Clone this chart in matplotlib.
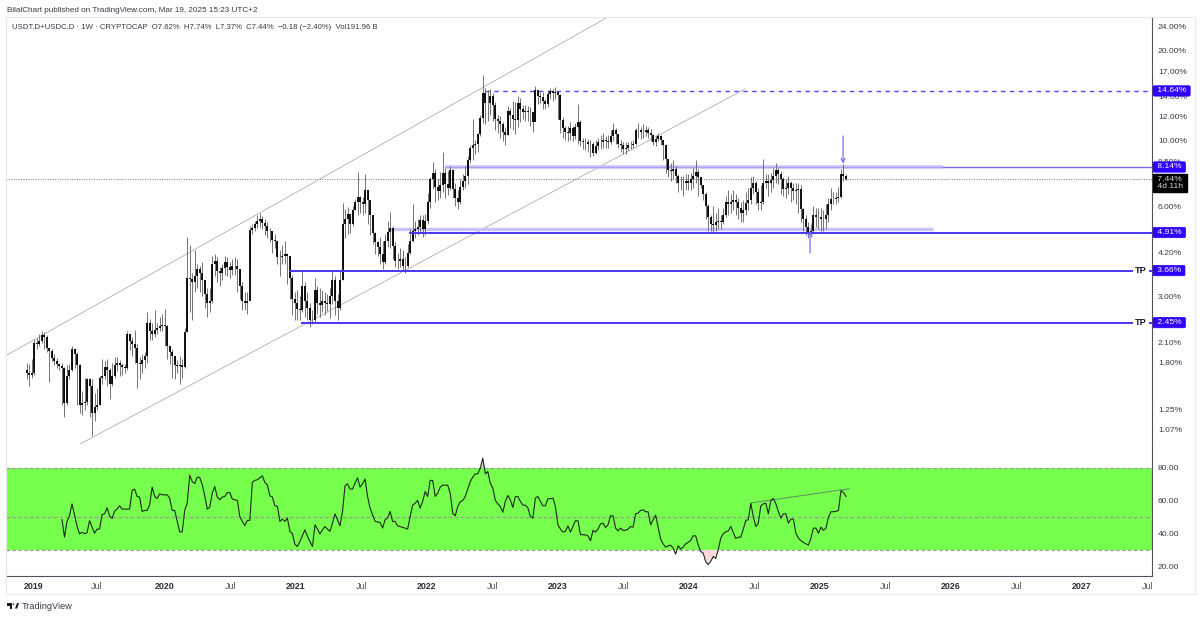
import matplotlib
matplotlib.use("Agg")
import matplotlib.pyplot as plt
from matplotlib.patches import Rectangle, Polygon, Circle
from matplotlib.ticker import FixedLocator, FixedFormatter, NullLocator

plt.rcParams["font.family"] = ["Liberation Sans", "DejaVu Sans"]

# weekly candles, percent dominance
closes = [1.66,1.64,1.66,2.10,2.07,2.13,2.22,2.20,2.02,1.97,
          1.87,1.82,1.78,1.75,1.72,1.32,1.62,1.70,2.00,1.92,
          1.76,1.30,1.32,1.33,1.58,1.50,1.22,1.28,1.30,1.60,
          1.62,1.74,1.70,1.52,1.62,1.77,1.80,1.76,1.74,1.72,
          2.25,2.12,2.08,2.02,1.80,1.78,1.84,1.90,2.45,2.30,
          2.25,2.32,2.35,2.38,2.40,2.38,2.05,1.95,1.90,1.76,
          1.75,1.76,1.74,2.27,3.45,3.42,3.35,3.50,3.70,3.60,
          3.40,3.05,2.85,2.90,3.85,3.95,3.65,3.60,3.72,3.90,
          3.75,3.68,3.80,3.78,3.70,3.25,2.90,2.85,2.90,5.02,
          5.09,5.23,5.38,5.43,5.28,5.18,4.95,4.95,4.65,4.60,
          4.05,4.05,4.08,4.15,4.10,3.45,2.95,2.85,2.72,2.70,
          3.25,2.90,2.75,2.50,2.50,3.15,2.85,2.80,2.90,2.85,
          2.82,3.00,3.40,2.90,2.75,3.40,5.25,5.43,5.67,5.25,
          5.82,6.22,6.46,6.22,6.12,6.80,6.32,5.63,4.88,4.55,
          4.38,4.15,3.90,4.60,4.93,5.09,4.42,3.95,3.95,3.99,
          3.80,3.78,4.20,4.60,4.97,5.05,5.13,5.41,5.05,5.38,
          6.22,7.41,7.80,6.95,6.76,7.07,7.80,7.12,6.90,7.95,
          6.88,6.42,6.22,6.95,7.31,7.60,8.58,9.46,9.65,9.75,
          10.5,11.9,14.4,13.3,13.3,14.1,13.1,11.8,11.6,11.3,
          10.7,10.4,12.5,12.2,11.8,11.7,13.3,12.7,12.4,12.5,
          12.4,12.4,11.5,14.8,14.1,14.0,13.5,13.2,14.3,14.6,
          14.4,14.5,14.2,11.7,11.0,10.7,10.6,11.0,10.3,11.1,
          11.5,9.95,9.85,9.85,9.75,9.75,9.07,9.55,9.85,9.85,
          10.0,9.95,9.85,10.3,10.8,10.5,9.75,9.65,9.36,9.46,
          9.65,9.65,9.75,10.8,10.8,10.7,10.7,10.8,10.6,10.4,
          9.85,10.1,10.3,10.0,9.65,8.68,7.95,7.9,8.0,7.6,
          7.22,7.2,7.2,7.31,7.22,7.41,7.6,7.85,7.51,7.1,
          6.61,6.02,5.53,5.23,5.2,5.33,5.38,5.33,5.63,6.22,
          6.12,6.22,6.32,6.22,5.92,5.72,5.82,6.18,6.32,6.91,
          7.22,6.71,6.18,6.22,7.22,7.31,7.22,7.36,7.6,7.95,
          7.7,7.41,6.86,6.91,7.2,6.91,6.76,6.81,6.86,5.87,
          5.43,5.13,4.93,4.96,5.63,5.53,5.53,5.43,5.43,5.63,
          6.12,6.34,6.37,6.42,6.46,7.7,7.62,7.44]
highs = [1.80,1.78,1.85,2.16,2.18,2.24,2.30,2.28,2.22,2.02,
         2.00,1.92,1.86,1.80,1.80,1.74,1.76,1.78,2.04,2.02,
         1.95,1.78,1.45,1.60,1.60,1.60,1.58,1.42,1.48,1.62,
         1.85,1.82,1.85,1.72,1.80,1.88,1.88,1.84,1.80,1.78,
         2.30,2.24,2.20,2.32,2.08,1.88,1.92,1.95,2.65,2.52,
         2.45,2.70,2.45,2.55,2.62,2.72,2.40,2.05,2.00,1.90,
         1.84,1.90,1.85,2.35,4.75,4.45,3.60,4.30,3.85,3.80,
         3.90,3.40,3.20,3.20,4.10,4.15,4.05,3.75,3.85,4.10,
         4.05,3.90,4.00,4.05,4.00,3.70,3.35,3.10,3.10,5.18,
         5.23,5.38,5.63,5.72,5.58,5.43,5.33,5.08,4.95,4.85,
         4.65,4.30,4.45,4.60,4.20,4.10,3.55,3.10,3.15,3.00,
         3.65,3.35,3.10,2.85,2.70,3.45,3.25,3.20,3.15,3.10,
         3.05,3.20,3.65,3.50,3.05,3.65,6.18,5.87,5.97,5.53,
         6.02,6.37,7.83,6.51,6.46,7.7,6.76,5.97,5.53,4.93,
         4.60,4.75,4.60,4.85,5.38,5.77,5.18,4.55,4.20,4.35,
         4.30,4.05,4.50,5.05,6.12,5.38,5.43,5.63,5.63,5.67,
         6.66,7.56,8.48,8.0,7.41,7.85,9.17,8.09,7.9,8.19,
         8.04,7.2,6.81,7.41,7.7,8.19,8.87,9.65,11.8,10.0,
         10.6,12.2,16.6,15.0,14.7,14.9,14.4,13.4,12.2,12.1,
         11.5,11.1,13.0,12.8,13.5,13.4,14.1,13.9,13.1,13.1,
         13.0,12.9,12.4,15.2,14.8,14.5,14.5,13.8,14.7,15.0,
         14.9,15.1,14.5,14.3,12.0,11.2,11.2,11.5,11.2,11.4,
         13.2,11.7,10.2,10.2,10.1,10.0,9.85,10.0,10.2,10.4,
         10.6,10.3,10.4,10.8,11.4,11.0,10.5,10.0,9.85,9.85,
         9.85,9.95,10.0,11.0,11.4,11.1,11.3,11.2,11.1,10.9,
         10.5,10.4,10.6,10.4,10.0,9.75,8.68,8.38,8.58,8.19,
         7.7,7.6,7.6,7.7,7.7,7.8,8.09,8.58,8.0,7.51,
         7.1,6.71,6.12,5.63,6.02,5.72,5.92,5.63,5.92,6.51,
         6.81,6.61,6.81,6.61,6.42,6.22,6.32,6.71,6.91,7.51,
         7.6,7.31,6.91,7.1,8.63,7.7,7.7,7.8,8.09,8.39,
         8.09,7.9,7.51,7.41,7.6,7.31,7.2,7.2,7.2,7.1,
         5.92,5.63,5.33,5.23,6.02,5.92,5.92,5.92,5.82,6.12,
         6.42,6.91,6.71,6.71,7.0,8.0,8.3,7.74]
lows = [1.58,1.50,1.60,1.64,2.00,2.05,2.10,2.00,1.95,1.55,
        1.82,1.76,1.72,1.70,1.30,1.18,1.30,1.58,1.68,1.72,
        1.30,1.22,1.20,1.25,1.30,1.18,1.02,1.15,1.25,1.30,
        1.52,1.58,1.50,1.36,1.50,1.60,1.68,1.62,1.64,1.66,
        1.70,1.98,1.90,1.80,1.48,1.58,1.66,1.72,1.80,2.15,
        2.15,2.20,2.25,2.30,2.30,2.05,1.85,1.78,1.60,1.58,
        1.66,1.52,1.60,1.72,2.27,2.65,2.50,3.10,3.20,3.10,
        3.00,2.75,2.55,2.65,2.85,3.50,3.35,3.25,3.40,3.55,
        3.50,3.45,3.55,3.55,3.10,2.95,2.70,2.70,2.62,3.85,
        4.85,4.95,5.08,5.13,5.03,4.80,4.70,4.55,4.20,4.35,
        3.85,3.50,3.85,3.85,3.30,2.95,2.60,2.50,2.50,2.50,
        2.65,2.55,2.50,2.36,2.42,2.45,2.62,2.55,2.65,2.60,
        2.68,2.53,2.82,2.60,2.50,2.70,3.40,4.70,4.85,4.90,
        5.15,5.82,5.63,5.72,5.63,5.72,5.23,4.80,4.50,4.15,
        4.10,3.85,3.70,3.85,4.40,4.35,4.00,3.75,3.70,3.75,
        3.65,3.60,3.75,4.15,4.55,4.70,4.80,4.90,4.75,4.80,
        5.23,5.95,6.92,6.22,6.32,6.42,6.71,6.42,6.56,6.81,
        6.42,6.02,5.87,6.12,6.81,6.91,7.12,8.39,8.58,8.97,
        9.17,10.3,11.4,11.3,11.6,12.2,11.6,10.8,10.6,10.2,
        9.95,9.65,10.4,11.0,10.8,10.5,11.1,11.5,11.8,11.6,
        11.6,11.2,10.7,11.6,13.2,13.3,12.7,12.7,12.9,13.8,
        13.5,13.8,11.8,10.6,10.2,10.0,9.95,10.0,9.95,10.1,
        9.75,9.55,9.36,9.26,9.17,8.78,8.87,8.97,9.26,9.36,
        9.46,9.46,9.46,9.75,9.95,9.75,9.46,9.17,8.97,8.97,
        9.26,9.36,9.46,9.65,10.2,10.1,10.2,10.3,10.2,9.95,
        9.65,9.55,9.95,9.65,8.58,7.8,7.51,7.31,7.41,7.22,
        6.71,6.81,6.52,6.81,6.81,6.81,6.92,7.22,6.52,6.91,
        6.32,5.43,4.95,4.95,4.92,4.95,5.03,5.03,5.23,5.53,
        5.63,5.72,5.82,5.63,5.43,5.33,5.33,5.63,5.82,6.12,
        6.61,6.12,5.82,5.82,6.12,6.91,6.52,6.71,6.91,7.22,
        7.12,6.61,6.52,6.42,6.61,6.22,6.32,6.12,5.72,5.33,
        4.95,4.80,4.70,4.75,4.85,5.13,5.03,4.95,4.95,5.03,
        5.33,5.82,6.12,6.12,6.22,6.42,7.30,7.37]
first_open = 1.70

rsi = [48.4,37.8,47.4,50.8,58.1,51.4,44.7,39.8,40.7,40,40.4,47.8,43.9,40.2,42.7,42.7,51.6,52,55.7,50.8,49.2,
       53.7,54.9,56.9,54.9,54.9,54.9,54.9,66.3,67.1,62.6,62.2,53.5,54.1,54.1,57.5,68.3,62.6,61.4,64.2,63.6,63.6,
       63.6,61.6,54.1,54.1,47.4,41,41,54.1,58.5,75.6,71.7,70.5,74.4,74.2,69.7,63,54.9,56.1,64.6,68.7,
       62.2,60.6,62.2,62.6,65,65,61,60.6,60.2,50.4,47.4,44.9,48,48,71.3,72.4,72.8,74,75.2,71.1,
       69.7,63,62.2,56.9,56.5,47.4,48.8,47.4,49.4,41.3,39.8,33.5,32.1,35.2,38.8,42.3,38.2,35.2,32.1,45.3,
       42.7,39.8,42.3,44.3,42.7,41.3,46.3,52,48.4,44.7,53.5,69.1,70.3,67.1,67.1,70.7,74,68.3,70.3,73.2,
       62.6,55.5,51.4,47.4,47,46.7,43.3,48.4,49.4,53.5,47.4,47.4,44.7,44.3,43.7,43.3,42.7,50.4,57.3,58.5,
       60.2,55.5,59.6,65.7,62.6,72.4,72.4,62.6,64.6,68.3,69.5,69.5,69.5,64.6,
       52.4,50.8,56.5,59.3,60.2,62.6,67.1,71.7,74.4,76.4,76.4,79.9,86,76.4,77.8,70.7,67.7,60.2,58.1,56.5,
       53,59.6,63.2,60.6,55.9,62.6,62.6,59.6,57.3,57.3,55.7,50.4,49.4,61.6,62.6,59.6,56.9,56.9,61.2,61.2,
       61.6,56.5,45.3,42.7,40.9,41.3,44.7,40.9,44.3,47.8,47.8,39.4,39.2,39.2,38.6,35.6,41.9,40.9,42.7,45.9,
       46.3,43.7,45.3,50.8,50.8,43.3,41.7,43.3,41.9,41.9,42.7,44.3,43.9,52,52.4,54.1,54.5,53.3,53.3,45.3,
       48.4,51.2,43.9,36.6,33.7,31.7,32.5,32.9,31.1,27.4,32.5,30.5,31.7,33.7,34.6,35.8,38.6,38.6,33.1,29.1,
       28,22.8,21.1,23,26,24.8,30.1,37.2,39.8,41.1,41.5,44.3,40.7,37,37.8,37.8,42.7,48,48.4,58.5,
       50.4,44.3,46.3,56.9,58.1,58.5,52,60,61.4,58.1,53.5,49.4,52,52,46.3,48.8,48.8,40.2,37.2,35.6,
       34.6,33.7,32.9,37.2,43.3,43.3,40.2,43.9,41.9,43.3,50,53.3,53.3,53.5,54.1,66.3,65,62.6]

price_ticks = [24, 20, 17, 14, 12, 10, 8.5, 6, 4.2, 3, 2.5, 2.1, 1.8, 1.25, 1.07]
price_labels = ["24.00%", "20.00%", "17.00%", "14.00%", "12.00%", "10.00%", "8.50%", "6.00%",
                "4.20%", "3.00%", "2.50%", "2.10%", "1.80%", "1.25%", "1.07%"]
rsi_ticks = [80, 60, 40, 20]
rsi_labels = ["80.00", "60.00", "40.00", "20.00"]
time_ticks = [2019, 2019.48, 2020, 2020.5, 2021, 2021.5, 2022, 2022.5, 2023, 2023.5,
              2024, 2024.5, 2025, 2025.5, 2026, 2026.5, 2027, 2027.5]
time_labels = ["2019", "Jul", "2020", "Jul", "2021", "Jul", "2022", "Jul", "2023", "Jul",
               "2024", "Jul", "2025", "Jul", "2026", "Jul", "2027", "Jul"]

levels = [14.64, 8.14, 4.91, 3.66, 2.45]
level_text = ["14.64%", "8.14%", "4.91%", "3.66%", "2.45%"]
last_price = 7.44
last_x = 2025.198

BLUE = "#2f00ff"
LINE = "#4a35f0"
BAND = "#c8c3f8"
ARROW = "#7f6dff"
BORDER = "#e6e8ee"
W, H = 1200, 617
FS = 6.1

fig = plt.figure(figsize=(12, 6.17), dpi=100, facecolor="white")
ax = fig.add_axes([6 / W, 1 - 444 / H, 1146 / W, 427 / H])
ax2 = fig.add_axes([6 / W, 1 - 576 / H, 1146 / W, 132 / H], sharex=ax)

n = len(closes)
xs = [last_x - (n - 1 - i) / 52.3 for i in range(n)]
opens = [first_open] + closes[:-1]

# channel and levels under the candles
ax.plot([2018.786, 2023.382], [1.90, 25.9], color="#a8a8a8", lw=0.55, zorder=1)
ax.plot([2019.351, 2024.427], [0.96, 14.85], color="#a8a8a8", lw=0.55, zorder=1)
ax.axhline(last_price, color="#777777", lw=0.7, ls=(0, (1, 1.5)), zorder=1)

ax.plot([2022.137, 2025.939], [8.16, 8.16], color=BAND, lw=2.6, solid_capstyle="butt", zorder=1)
ax.plot([2021.718, 2025.863], [5.03, 5.03], color=BAND, lw=2.4, solid_capstyle="butt", zorder=1)
ax.plot([2022.137, 2025.939], [8.14, 8.14], color="#a89ff5", lw=0.7, zorder=1)
ax.plot([2025.939, 2027.534], [8.14, 8.14], color="#7a68f5", lw=1.0, zorder=1)
ax.plot([2022.443, 2027.534], [14.64, 14.64], color="#5b45ff", lw=1.0, ls=(0, (3.2, 3.2)), zorder=1)
ax.plot([2021.87, 2027.534], [4.91, 4.91], color=LINE, lw=1.4, zorder=3)
ax.plot([2020.954, 2027.534], [3.66, 3.66], color=LINE, lw=1.4, zorder=3)
ax.plot([2021.046, 2027.534], [2.45, 2.45], color=LINE, lw=1.4, zorder=3)

# candles
ax.vlines(xs, lows, highs, color="#6a6a6a", lw=0.65, zorder=2)
ax.vlines(xs, opens, closes, color="black", lw=1.3, zorder=2.5)

ax.annotate("", xy=(2025.176, 8.35), xytext=(2025.176, 10.35),
            arrowprops=dict(arrowstyle="->", color=ARROW, lw=0.9, mutation_scale=7, shrinkA=0, shrinkB=0), zorder=4)
ax.annotate("", xy=(2024.924, 4.95), xytext=(2024.924, 4.2),
            arrowprops=dict(arrowstyle="->", color=ARROW, lw=0.9, mutation_scale=7, shrinkA=0, shrinkB=0), zorder=4)

ax.set_yscale("log")
ax.set_xlim(2018.786, 2027.534)
ax.set_ylim(0.96, 25.9)
ax.yaxis.set_major_locator(FixedLocator(price_ticks))
ax.yaxis.set_major_formatter(FixedFormatter(price_labels))
ax.yaxis.set_minor_locator(NullLocator())
ax.yaxis.tick_right()
ax.tick_params(axis="y", length=0, pad=4.3, labelsize=FS, labelcolor="#363a45")
ax.tick_params(axis="x", length=0, labelbottom=False)
for s in ["top", "left"]:
    ax.spines[s].set_visible(False)
ax.spines["bottom"].set_color(BORDER)
ax.spines["right"].set_color("#50535e")

# price tags on the scale
tr = ax.get_yaxis_transform()
for p, t in zip(levels, level_text):
    ax.text(1.0024, p, " " + t + " ", transform=tr, fontsize=FS, color="white", va="center", ha="left", zorder=6,
            bbox=dict(boxstyle="round,pad=0.2,rounding_size=0.15", fc=BLUE, ec=BLUE, lw=0.5), clip_on=False)
ax.text(1.0024, 7.2, " 7.44% \n 4d 11h ", transform=tr, fontsize=FS, color="#d8d8d8", va="center", ha="left",
        linespacing=1.15, zorder=6, bbox=dict(boxstyle="square,pad=0.2", fc="black", ec="black"), clip_on=False)
for p in [3.66, 2.45]:
    ax.text(2027.45, p, "TP", fontsize=6.6, fontweight="bold", color="#131722", ha="center", va="center", zorder=5,
            bbox=dict(fc="white", ec="none", pad=1.5))

# RSI pane
rsi_x = [last_x - (len(rsi) - 1 - i) / 52.3 for i in range(len(rsi))]
ax2.axhspan(30, 80, color="#76ff4d", lw=0, zorder=0)
for v in [80, 50, 30]:
    ax2.axhline(v, color="#9a9a9a", lw=0.85, ls=(0, (3, 2)), zorder=1)
ax2.fill_between(rsi_x, rsi, 30, where=[r < 30 for r in rsi], interpolate=True, color="#ffd9dc", lw=0, zorder=1)
ax2.fill_between(rsi_x, rsi, 80, where=[r > 80 for r in rsi], interpolate=True, color="#b9d9b0", lw=0, zorder=1)
ax2.plot(rsi_x, rsi, color="#1c2a1c", lw=0.8, zorder=3)
ax2.plot([2024.479, 2025.221], [58.7, 67.3], color="#5b8f62", lw=0.7, zorder=2)

ax2.set_ylim(14.1, 94.6)
ax2.yaxis.set_major_locator(FixedLocator(rsi_ticks))
ax2.yaxis.set_major_formatter(FixedFormatter(rsi_labels))
ax2.yaxis.tick_right()
ax2.tick_params(axis="y", length=0, pad=4.3, labelsize=FS, labelcolor="#363a45")
ax2.xaxis.set_major_locator(FixedLocator(time_ticks))
ax2.xaxis.set_major_formatter(FixedFormatter(time_labels))
ax2.tick_params(axis="x", length=0, pad=4.5, labelsize=6.4, labelcolor="#50535e")
for lab, t in zip(ax2.get_xticklabels(), time_labels):
    if t != "Jul":
        lab.set_fontweight("bold")
        lab.set_color("#2a2e39")
for s in ["top", "left"]:
    ax2.spines[s].set_visible(False)
ax2.spines["bottom"].set_color("#50535e")
ax2.spines["right"].set_color("#50535e")

# outer frame and header
fig.add_artist(Rectangle((6 / W, 1 - 594 / H), 1189 / W, 577 / H, transform=fig.transFigure,
                         fill=False, ec=BORDER, lw=0.8))
fig.text(7 / W, 1 - 10 / H, "BilalChart published on TradingView.com, Mar 19, 2025 15:23 UTC+2",
         fontsize=5.85, color="#363a45", va="center")
fig.text(12 / W, 1 - 27.5 / H, "USDT.D+USDC.D · 1W · CRYPTOCAP  O7.62%  H7.74%  L7.37%  C7.44%  −0.18 (−2.40%)  Vol191.96 B",
         fontsize=5.6, color="#363a45", va="center")

# TradingView logo
fig.add_artist(Rectangle((7 / W, 1 - 605.5 / H), 5.2 / W, 2.4 / H, transform=fig.transFigure, fc="#131722", lw=0))
fig.add_artist(Rectangle((9.6 / W, 1 - 608.5 / H), 2.6 / W, 3.2 / H, transform=fig.transFigure, fc="#131722", lw=0))
fig.add_artist(Circle((13.6 / W, 1 - 604.2 / H), 1.1 / W, transform=fig.transFigure, fc="#131722", lw=0))
fig.add_artist(Polygon([(15 / W, 1 - 608.5 / H), (17 / W, 1 - 603.1 / H), (19 / W, 1 - 603.1 / H), (17.2 / W, 1 - 608.5 / H)],
                       transform=fig.transFigure, fc="#131722", lw=0))
fig.text(22 / W, 1 - 606.5 / H, "TradingView", fontsize=6.6, color="#363a45", va="center")

fig.savefig("out.png", dpi=100)
